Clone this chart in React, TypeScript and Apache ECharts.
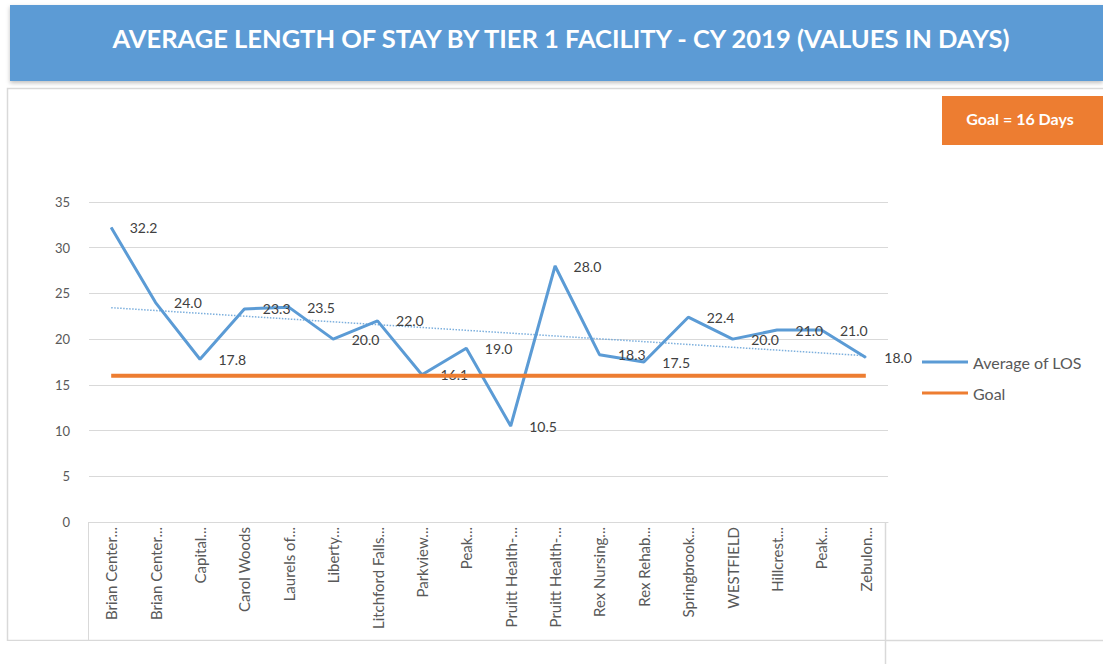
import React, { useEffect, useRef } from "react";
import * as echarts from "echarts";

const chartTitle = "AVERAGE LENGTH OF STAY BY TIER 1 FACILITY - CY 2019 (VALUES IN DAYS)";
const goalBoxText = "Goal = 16 Days";

const facilities = [
  "Brian Center...",
  "Brian Center...",
  "Capital...",
  "Carol Woods",
  "Laurels of...",
  "Liberty...",
  "Litchford Falls...",
  "Parkview...",
  "Peak...",
  "Pruitt Health-...",
  "Pruitt Health-...",
  "Rex Nursing...",
  "Rex Rehab...",
  "Springbrook...",
  "WESTFIELD",
  "Hillcrest...",
  "Peak...",
  "Zebulon...",
];

const losValues = [32.2, 24.0, 17.8, 23.3, 23.5, 20.0, 22.0, 16.1, 19.0, 10.5, 28.0, 18.3, 17.5, 22.4, 20.0, 21.0, 21.0, 18.0];
const goalValues = [16, 16, 16, 16, 16, 16, 16, 16, 16, 16, 16, 16, 16, 16, 16, 16, 16, 16];

const yMin = 0;
const yMax = 35;
const yInterval = 5;

// Linear trendline (least squares) of the LOS series, as in the original Excel chart
function linearTrend(values: number[]): number[] {
  const n = values.length;
  const mx = (n - 1) / 2;
  const my = values.reduce((a, b) => a + b, 0) / n;
  let sxy = 0;
  let sxx = 0;
  values.forEach((v, i) => {
    sxy += (i - mx) * (v - my);
    sxx += (i - mx) * (i - mx);
  });
  const slope = sxy / sxx;
  return values.map((_, i) => my + slope * (i - mx));
}

const BLUE = "#5B9BD5";
const ORANGE = "#ED7D31";
const FONT = "Lato, 'Open Sans', sans-serif";

export default function App() {
  const ref = useRef<HTMLDivElement>(null);

  useEffect(() => {
    if (!ref.current) return;
    const chart = echarts.init(ref.current, undefined, { renderer: "svg" });
    const trend = linearTrend(losValues);

    chart.setOption({
      animation: false,
      backgroundColor: "#ffffff",
      textStyle: { fontFamily: FONT },
      grid: { left: 89, right: 215, top: 202, bottom: 142 },
      legend: {
        data: ["Average of LOS", "Goal"],
        orient: "vertical",
        left: 917,
        top: 349,
        icon: "rect",
        itemWidth: 46,
        itemHeight: 3,
        itemGap: 15,
        textStyle: { color: "#595959", fontSize: 16, fontFamily: FONT },
      },
      xAxis: {
        type: "category",
        data: facilities,
        boundaryGap: true,
        axisLine: { show: true, lineStyle: { color: "#d9d9d9", width: 1 } },
        axisTick: { show: false },
        axisLabel: {
          rotate: 90,
          interval: 0,
          margin: 5,
          color: "#595959",
          fontSize: 15,
          fontFamily: FONT,
        },
        splitLine: { show: false },
      },
      yAxis: {
        type: "value",
        min: yMin,
        max: yMax,
        interval: yInterval,
        axisLine: { show: false },
        axisTick: { show: false },
        axisLabel: { color: "#595959", fontSize: 13, margin: 19, fontFamily: FONT },
        splitLine: { lineStyle: { color: "#d9d9d9", width: 1 } },
      },
      series: [
        {
          name: "Average of LOS",
          type: "line",
          data: losValues,
          symbol: "circle",
          symbolSize: 1,
          showSymbol: true,
          lineStyle: { color: BLUE, width: 3 },
          itemStyle: { color: BLUE },
          z: 3,
          label: {
            show: true,
            position: "right",
            distance: 18,
            color: "#404040",
            fontSize: 14,
            fontFamily: FONT,
            formatter: (p: any) => Number(p.value).toFixed(1),
          },
        },
        {
          name: "Trend",
          type: "line",
          data: trend,
          symbol: "none",
          silent: true,
          lineStyle: { color: BLUE, width: 1.5, type: "dotted", opacity: 0.8 },
          itemStyle: { color: BLUE },
          z: 2,
        },
        {
          name: "Goal",
          type: "line",
          data: goalValues,
          symbol: "none",
          lineStyle: { color: ORANGE, width: 4 },
          itemStyle: { color: ORANGE },
          z: 4,
        },
      ],
      graphic: [
        {
          type: "rect",
          z: -10,
          shape: { x: 7.5, y: 88.5, width: 1100, height: 552 },
          style: { fill: "none", stroke: "#d9d9d9", lineWidth: 1.5 },
        },
        {
          type: "rect",
          z: 10,
          shape: { x: 10, y: 5, width: 1093, height: 76 },
          style: {
            fill: BLUE,
            shadowBlur: 4,
            shadowOffsetY: 2,
            shadowColor: "rgba(0,0,0,0.25)",
          },
        },
        {
          type: "text",
          z: 11,
          x: 561,
          y: 38,
          style: {
            text: chartTitle,
            fill: "#ffffff",
            font: "bold 25.5px Lato, sans-serif",
            textAlign: "center",
            textVerticalAlign: "middle",
          },
        },
        {
          type: "rect",
          z: 10,
          shape: { x: 942, y: 96, width: 161, height: 49 },
          style: { fill: ORANGE },
        },
        {
          type: "text",
          z: 11,
          x: 1020,
          y: 118,
          style: {
            text: goalBoxText,
            fill: "#ffffff",
            font: "bold 16px Lato, sans-serif",
            textAlign: "center",
            textVerticalAlign: "middle",
          },
        },
        {
          type: "line",
          z: 10,
          shape: { x1: 88.5, y1: 522, x2: 88.5, y2: 640 },
          style: { stroke: "#d9d9d9", lineWidth: 1 },
        },
        {
          type: "rect",
          z: 100,
          shape: { x: 0, y: 641, width: 885, height: 23 },
          style: { fill: "#ffffff" },
        },
        {
          type: "line",
          z: 101,
          shape: { x1: 885.5, y1: 522, x2: 885.5, y2: 664 },
          style: { stroke: "#d9d9d9", lineWidth: 1.5 },
        },
      ],
    });

    return () => chart.dispose();
  }, []);

  return (
    <div
      ref={ref}
      style={{ position: "fixed", left: 0, top: 0, width: 1103, height: 664, background: "#fff" }}
    />
  );
}
